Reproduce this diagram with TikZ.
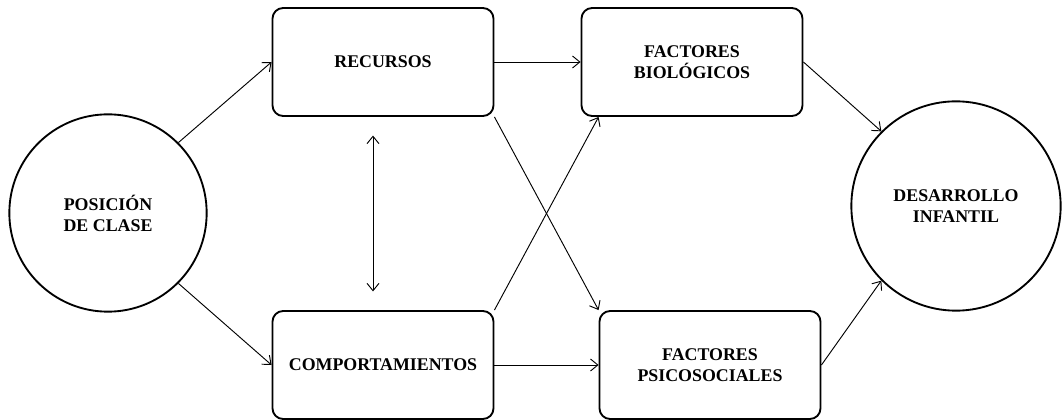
\documentclass[tikz,border=0pt]{standalone}
\usepackage{fontspec}
\setmainfont{Liberation Serif}
\usetikzlibrary{arrows.meta}

\begin{document}
\begin{tikzpicture}[x=0.75pt, y=-0.75pt, >={Straight Barb[length=5.5pt,width=9pt]},
  box/.style={draw, line width=1.4pt, rounded corners=8pt, minimum width=165.75pt,
    minimum height=81pt, align=center, font=\bfseries\fontsize{13.4}{15.8}\selectfont},
  blob/.style={draw, circle, line width=1.4pt, align=center,
    font=\bfseries\fontsize{13.4}{15.8}\selectfont},
  link/.style={->, line width=0.7pt}]

\useasboundingbox (0,0) rectangle (1063,420);

% Circles
\node[blob, minimum size=148pt] (pos) at (108,213) {POSICIÓN\\DE CLASE};
\node[blob, minimum size=157pt] (dev) at (956,206) {DESARROLLO\\INFANTIL};

% Boxes
\node[box] (rec) at (383,62) {RECURSOS};
\node[box] (comp) at (383,365) {COMPORTAMIENTOS};
\node[box] (bio) at (692,62) {FACTORES\\BIOLÓGICOS};
\node[box] (psi) at (710,365) {FACTORES\\PSICOSOCIALES};

% Arrows from class position
\draw[link] (pos.45) -- (rec.west);
\draw[link] (pos.-45) -- (comp.west);

% Two-way link
\draw[<->, line width=0.7pt, shorten <=14pt, shorten >=14pt]
  ([xshift=-7.5pt]rec.south) -- ([xshift=-7.5pt]comp.north);

% Middle arrows
\draw[link] (rec.east) -- (bio.west);
\draw[link] (comp.east) -- (psi.west);
\draw[link] (rec.south east) -- (psi.north west);
\draw[link] (comp.north east) -- ([xshift=13.5pt]bio.south west);

% Into child development
\draw[link] (bio.east) -- (dev.135);
\draw[link] (psi.east) -- (dev.225);

\end{tikzpicture}
\end{document}
